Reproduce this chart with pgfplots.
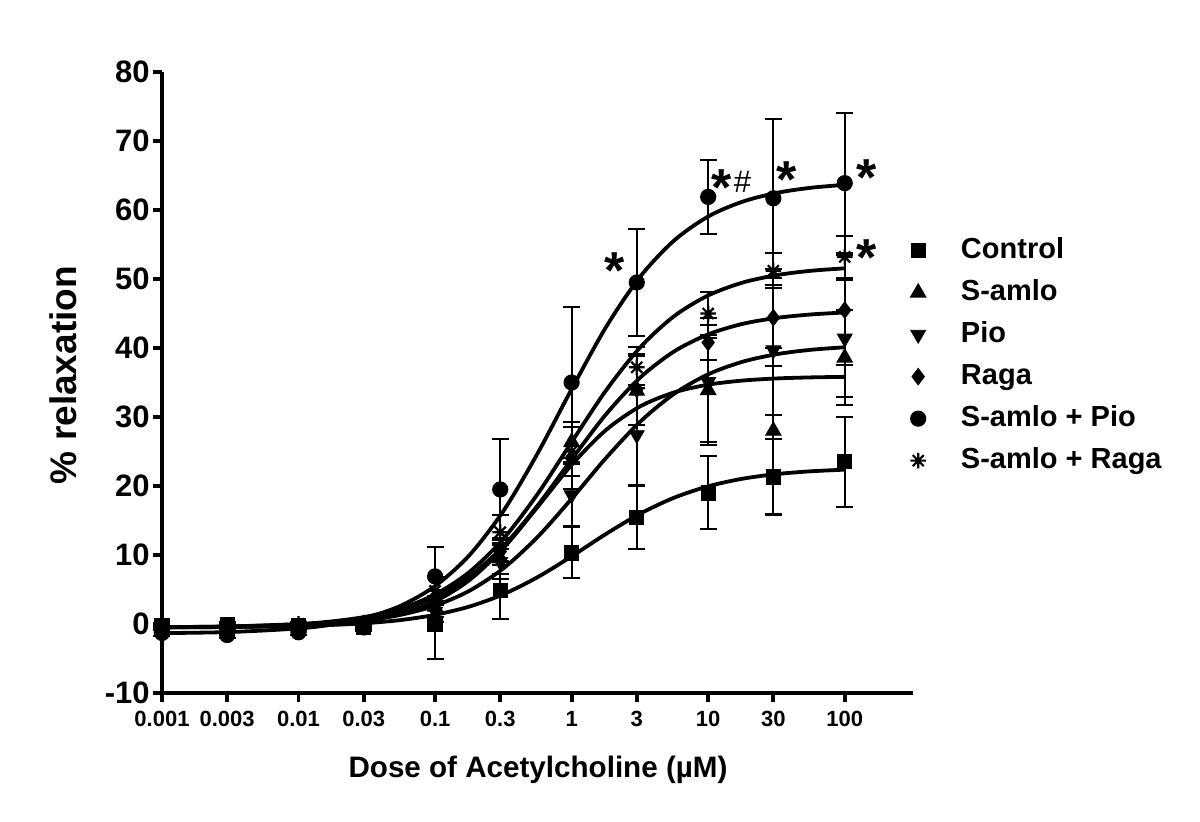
\documentclass[border=0pt]{standalone}
\usepackage{fontspec}
\setmainfont{Liberation Sans}
\usepackage{pgfplots}
\pgfplotsset{compat=1.18}
\usepackage{pgfplotstable}

% eight-armed star marker
\pgfdeclareplotmark{star8}{%
  \pgfpathmoveto{\pgfqpoint{0pt}{\pgfplotmarksize}}%
  \pgfpathlineto{\pgfqpoint{0pt}{-\pgfplotmarksize}}%
  \pgfpathmoveto{\pgfqpoint{\pgfplotmarksize}{0pt}}%
  \pgfpathlineto{\pgfqpoint{-\pgfplotmarksize}{0pt}}%
  \pgfpathmoveto{\pgfqpoint{0.7071\pgfplotmarksize}{0.7071\pgfplotmarksize}}%
  \pgfpathlineto{\pgfqpoint{-0.7071\pgfplotmarksize}{-0.7071\pgfplotmarksize}}%
  \pgfpathmoveto{\pgfqpoint{-0.7071\pgfplotmarksize}{0.7071\pgfplotmarksize}}%
  \pgfpathlineto{\pgfqpoint{0.7071\pgfplotmarksize}{-0.7071\pgfplotmarksize}}%
  \pgfusepathqstroke}

% mean and SEM, % relaxation
\pgfplotstableread{
x      y     e
0.001  -0.2  0.4
0.003  -0.1  0.4
0.01   -0.2  0.4
0.03   -0.5  0.5
0.1     0.0  5.0
0.3     4.9  4.2
1      10.3  3.7
3      15.4  4.6
10     19.0  5.3
30     21.3  5.5
100    23.5  6.5
}\control
\pgfplotstableread{
x      y     e
0.001  -0.6  0.3
0.003  -0.6  0.3
0.01   -0.5  0.3
0.03   -0.3  0.4
0.1     2.5  1.5
0.3     9.5  2.2
1      26.4  2.9
3      33.8  5.0
10     33.9  7.5
30     28.0 12.0
100    38.6  6.9
}\samlo
\pgfplotstableread{
x      y     e
0.001  -0.5  0.3
0.003  -0.5  0.3
0.01   -0.4  0.3
0.03   -0.2  0.4
0.1     1.8  1.5
0.3     9.0  2.5
1      18.7  4.5
3      27.4  7.2
10     35.1  9.2
30     39.7  9.4
100    41.4  8.5
}\pio
\pgfplotstableread{
x      y     e
0.001  -0.4  0.3
0.003  -0.4  0.3
0.01   -0.3  0.3
0.03    0.0  0.4
0.1     3.0  2.0
0.3    10.5  2.0
1      24.0  4.5
3      34.0  5.2
10     40.8  2.5
30     44.4  7.0
100    45.5  8.0
}\raga
\pgfplotstableread{
x      y     e
0.001  -1.3  0.4
0.003  -1.6  0.4
0.01   -1.2  0.4
0.03   -0.5  0.5
0.1     6.9  4.2
0.3    19.5  7.3
1      35.0 11.0
3      49.5  7.8
10     61.9  5.4
30     61.7 11.5
100    63.9 10.2
}\samlopio
\pgfplotstableread{
x      y     e
0.001  -0.3  0.3
0.003  -0.2  0.3
0.01    0.0  0.3
0.03    0.2  0.4
0.1     4.8  2.0
0.3    13.3  2.5
1      25.0  3.6
3      37.2  3.0
10     45.0  3.1
30     51.2  2.5
100    53.2  3.0
}\samloraga

% fitted curves
\pgfplotstableread{
x         ctrl   samlo  pio    raga   sp     sr
0.001    -0.48  -0.48  -0.47  -0.46  -1.32  -0.45
0.003162 -0.43  -0.43  -0.39  -0.36  -1.16  -0.35
0.01     -0.29  -0.24  -0.16  -0.05  -0.64   0.00
0.01778  -0.13   0.02   0.10   0.30  -0.06   0.39
0.03162   0.13   0.53   0.55   0.93   0.95   1.08
0.05623   0.58   1.50   1.34   2.02   2.66   2.27
0.1       1.33   3.28   2.66   3.87   5.50   4.28
0.1778    2.52   6.34   4.80   6.85   9.94   7.51
0.3162    4.31  10.99   8.06  11.27  16.37  12.34
0.5623    6.78  16.95  12.60  17.15  24.70  18.82
1         9.81  23.07  18.16  23.86  34.04  26.37
1.778    13.03  28.09  24.02  30.35  42.97  33.80
3.162    15.97  31.52  29.28  35.68  50.29  40.05
5.623    18.30  33.56  33.36  39.50  55.57  44.61
10       19.96  34.69  36.19  41.98  59.06  47.62
17.78    21.05  35.28  38.00  43.49  61.20  49.47
31.62    21.73  35.59  39.10  44.36  62.48  50.56
56.23    22.13  35.74  39.74  44.86  63.22  51.19
100      22.37  35.82  40.11  45.15  63.65  51.55
}\fits

\begin{document}
\begin{tikzpicture}
\path[use as bounding box] (-81pt,-64pt) rectangle (519pt,346.5pt);
\begin{axis}[
  at={(0,0)}, anchor=south west,
  scale only axis, width=375.5pt, height=310.5pt,
  xmode=log, xmin=0.001, xmax=316.2,
  ymin=-10, ymax=80,
  clip=false,
  axis lines*=left,
  axis line style={line width=1.9pt},
  tick style={line width=1.9pt, black},
  tick align=outside,
  major tick length=4.5pt,
  minor tick num=0,
  xtick={0.001,0.003,0.01,0.03,0.1,0.3,1,3,10,30,100},
  xticklabels={0.001,0.003,0.01,0.03,0.1,0.3,1,3,10,30,100},
  ytick={-10,0,...,80},
  /pgf/number format/assume math mode=true,
  xticklabel style={font=\bfseries\fontsize{11}{11}\selectfont, inner sep=4.5pt},
  yticklabel style={font=\bfseries\fontsize{15.5}{15.5}\selectfont, inner sep=1.5pt},
  xlabel={Dose of Acetylcholine (µM)},
  xlabel style={at={(axis description cs:0.5007,-0.124)}, anchor=center,
    font=\bfseries\fontsize{14.8}{15}\selectfont},
  ylabel={\% relaxation},
  ylabel style={at={(axis description cs:-0.1318,0.512)}, anchor=center,
    font=\bfseries\fontsize{18.5}{19}\selectfont},
  legend style={draw=none, fill=none, at={(1,0.742)}, xshift=-1.5pt, anchor=north west,
    font=\bfseries\fontsize{14.5}{15}\selectfont, row sep=3pt, inner sep=0pt,
    nodes={inner sep=2pt, text height=11pt, text depth=3pt},
    /tikz/every odd column/.append style={column sep=15.5pt}},
  legend cell align=left,
  legend image code/.code={\draw[mark repeat=2, mark phase=2, #1]
    plot coordinates {(0pt,0pt) (4pt,0pt) (8pt,0pt)};},
  fit/.style={smooth, black, line width=1.9pt, no marks, forget plot},
  pts/.style={only marks, black, mark options={solid, fill=black, line width=0.6pt},
    error bars/y dir=both, error bars/y explicit,
    error bars/error bar style={line width=1pt, black},
    error bars/error mark options={rotate=90, mark size=4.25pt, line width=1pt, black}},
]
\addplot[fit] table[x=x, y=ctrl] {\fits};
\addplot[fit] table[x=x, y=samlo] {\fits};
\addplot[fit] table[x=x, y=pio] {\fits};
\addplot[fit] table[x=x, y=raga] {\fits};
\addplot[fit] table[x=x, y=sp] {\fits};
\addplot[fit] table[x=x, y=sr] {\fits};

\addplot[pts, mark=square*, mark size=3.5pt] table[x=x, y=y, y error=e] {\control};
\addlegendentry{Control}
\addplot[pts, mark=triangle*, mark size=4.3pt] table[x=x, y=y, y error=e] {\samlo};
\addlegendentry{S-amlo}
\addplot[pts, mark=triangle*, mark size=4.3pt, mark options={rotate=180}] table[x=x, y=y, y error=e] {\pio};
\addlegendentry{Pio}
\addplot[pts, mark=diamond*, mark size=4pt] table[x=x, y=y, y error=e] {\raga};
\addlegendentry{Raga}
\addplot[pts, mark=*, mark size=3.75pt] table[x=x, y=y, y error=e] {\samlopio};
\addlegendentry{S-amlo + Pio}
\addplot[pts, mark=star8, mark size=3.9pt, mark options={line width=1.1pt}] table[x=x, y=y, y error=e] {\samloraga};
\addlegendentry{S-amlo + Raga}

\tikzset{sig/.style={font=\bfseries\fontsize{26}{26}\selectfont, inner sep=0pt, anchor=north}}
\node[sig] at (axis cs:2.07,53.8) {*};
\node[sig] at (axis cs:12.5,65.9) {*};
\node[font=\fontsize{15.5}{16}\selectfont, inner sep=0pt, anchor=base] at (axis cs:17.8,62.6) {\#};
\node[sig] at (axis cs:37.4,67.1) {*};
\node[sig] at (axis cs:144,67.3) {*};
\node[sig] at (axis cs:144,55.7) {*};
\end{axis}
\end{tikzpicture}
\end{document}
